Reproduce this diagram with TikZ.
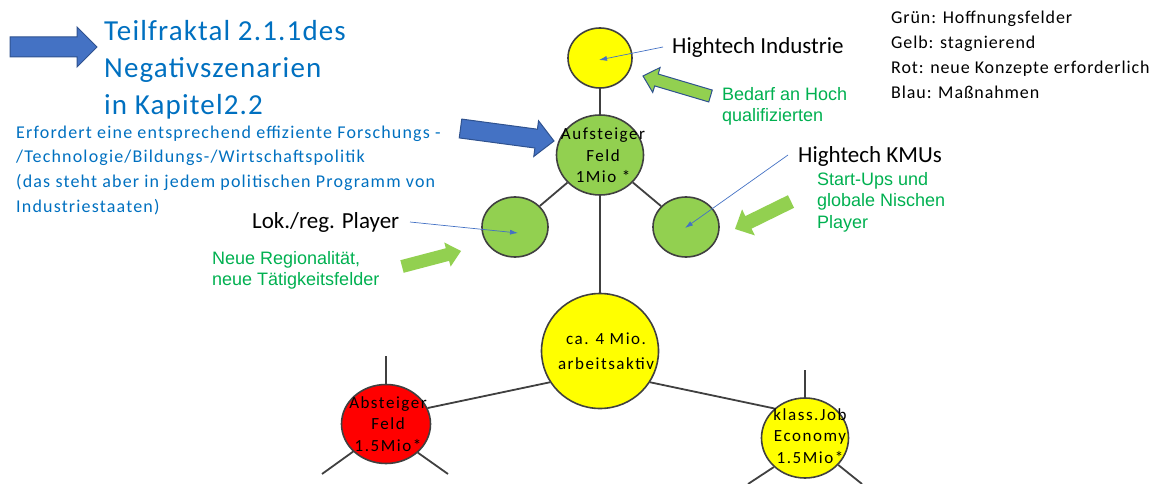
\documentclass[tikz,border=0pt]{standalone}
\usepackage{fontspec}
\setmainfont{Carlito}
\newfontfamily\arialfont{Liberation Sans}
\usetikzlibrary{shapes.geometric,arrows.meta,calc}
\definecolor{cline}{RGB}{64,64,64}
\definecolor{tblue}{RGB}{0,112,192}
\definecolor{tgreen}{RGB}{0,176,80}
\definecolor{ablue}{RGB}{68,114,196}
\definecolor{ablueo}{RGB}{47,82,143}
\definecolor{fgreen}{RGB}{146,208,80}
\definecolor{fyellow}{RGB}{255,255,0}
\definecolor{fred}{RGB}{255,0,0}
\newcommand{\blockarr}[6]{%
  \coordinate (baT) at (#1);
  \coordinate (baP) at (#2);
  \coordinate (baB) at ($(baP)!#5!(baT)$);
  \path[#6] ($(baT)!#3!90:(baP)$) -- ($(baB)!#3!-90:(baT)$) -- ($(baB)!#4!-90:(baT)$)
    -- (baP) -- ($(baB)!#4!90:(baT)$) -- ($(baB)!#3!90:(baT)$) -- ($(baT)!#3!-90:(baP)$) -- cycle;}
\tikzset{
  circ/.style={ellipse, draw=cline, line width=1.6pt, inner sep=0pt},
  tline/.style={draw=cline, line width=1.8pt},
  callout/.style={draw=ablue, line width=0.7pt, -{Latex[length=8pt,width=5pt]}},
  ctext/.style={anchor=north, inner sep=0pt, align=center,
    font=\fontsize{17}{21.5}\selectfont\addfontfeature{LetterSpace=9}},
  lbl/.style={inner sep=0pt, anchor=base west, font=\fontsize{23}{28}\selectfont},
  gtext/.style={inner sep=0pt, anchor=north west, align=left, text=tgreen,
    font=\arialfont\fontsize{18}{21.5}\selectfont},
  bluearr/.style={fill=ablue, draw=ablueo, line width=1pt, line join=miter},
  greenarr/.style={fill=fgreen},
  greenarro/.style={fill=fgreen, draw=ablueo, line width=1pt}
}
\begin{document}
\begin{tikzpicture}[x=1pt,y=-1pt]
\useasboundingbox (0,0) rectangle (1162,484);

% circles
\node[circ, fill=fyellow, minimum width=64pt, minimum height=60pt] (ty) at (600,58) {};
\node[circ, fill=fgreen, minimum width=87pt, minimum height=80pt] (auf) at (600,155) {};
\node[circ, fill=fgreen, minimum width=66pt, minimum height=60pt] (lg) at (515,227) {};
\node[circ, fill=fgreen, minimum width=66pt, minimum height=60pt] (rg) at (686,227) {};
\node[circ, fill=fyellow, minimum width=117pt, minimum height=115pt] (big) at (600,351) {};
\node[circ, fill=fred, minimum width=89pt, minimum height=79pt] (red) at (386,424) {};
\node[circ, fill=fyellow, minimum width=87pt, minimum height=80pt] (kl) at (805,438) {};

% connectors
\draw[tline] (ty) -- (auf);
\draw[tline] (auf) -- (lg);
\draw[tline] (auf) -- (rg);
\draw[tline] (auf) -- (big);
\draw[tline] (big.212) -- (red.21);
\draw[tline] (big.-32) -- (kl.136);
\coordinate (redN) at (386,356);
\coordinate (redSW) at (322,474);
\coordinate (redSE) at (448,474);
\coordinate (klN) at (805,370);
\coordinate (klSW) at (748,484);
\coordinate (klSE) at (862,484);
\draw[tline] (red.north) -- (redN);
\draw[tline] (red.220) -- (redSW);
\draw[tline] (red.-42) -- (redSE);
\draw[tline] (kl.north) -- (klN);
\draw[tline] (kl.223) -- (klSW);
\draw[tline] (kl.-39) -- (klSE);

% circle texts
\node[ctext] (aufT) at (603,128) {Aufsteiger\\Feld\\1Mio *};
\node[ctext, font=\fontsize{17}{25}\selectfont\addfontfeature{LetterSpace=9}] (bigT) at (606,333) {ca. 4 Mio.\\arbeitsaktiv};
\node[ctext] (redT) at (388,396) {Absteiger\\Feld\\1.5Mio*};
\node[ctext] (klT) at (810,408) {klass.Job\\Economy\\1.5Mio*};

% labels
\node[lbl] (hti) at (672,54) {Hightech Industrie};
\node[lbl] (hkm) at (798,162) {Hightech KMUs};
\node[lbl] (lok) at (252,228) {Lok./reg. Player};

% callouts
\coordinate (htiS) at (663,47);
\coordinate (htiE) at (599,60);
\coordinate (lokS) at (410,222);
\coordinate (lokE) at (518,233);
\coordinate (hkmS) at (788,155);
\coordinate (hkmE) at (685,228);
\draw[callout] (htiS) -- (htiE);
\draw[callout] (lokS) -- (lokE);
\draw[callout] (hkmS) -- (hkmE);

% green texts
\node[gtext] (bed) at (722,87) {Bedarf an Hoch\\qualifizierten};
\node[gtext] (sta) at (817,172) {Start-Ups und\\globale Nischen\\Player};
\node[gtext] (neu) at (212,251) {Neue Regionalität,\\neue Tätigkeitsfelder};

% title and blue text
\node[inner sep=0pt, anchor=north west, align=left, text=tblue,
  font=\fontsize{29}{37}\selectfont\addfontfeature{LetterSpace=4}] (title) at (104,20.5)
  {Teilfraktal 2.1.1des\\Negativszenarien\\in Kapitel2.2};
\node[inner sep=0pt, anchor=north west, align=left, text=tblue,
  font=\fontsize{18}{24.7}\selectfont\addfontfeature{LetterSpace=6.5}] (para) at (16,125.5)
  {Erfordert eine entsprechend effiziente Forschungs -\\/Technologie/Bildungs-/Wirtschaftspolitik\\(das steht aber in jedem politischen Programm von\\Industriestaaten)};

% legend
\node[inner sep=0pt, anchor=north west, align=left,
  font=\fontsize{18}{25}\selectfont\addfontfeature{LetterSpace=5}] (leg) at (891,10.5)
  {Grün: Hoffnungsfelder\\Gelb: stagnierend\\Rot: neue Konzepte erforderlich\\Blau: Maßnahmen};

% block arrows
\blockarr{10,47}{97,47}{10pt}{20pt}{20pt}{bluearr}
\blockarr{460.5,128.5}{554,141}{9.5pt}{18pt}{18pt}{bluearr}
\blockarr{710.5,96}{643,76}{6.2pt}{13pt}{14pt}{greenarro}
\blockarr{791,201.5}{735,229}{7pt}{14.5pt}{15pt}{greenarr}
\blockarr{402,266.5}{461,251}{6.5pt}{12.5pt}{14pt}{greenarr}
\end{tikzpicture}
\end{document}
